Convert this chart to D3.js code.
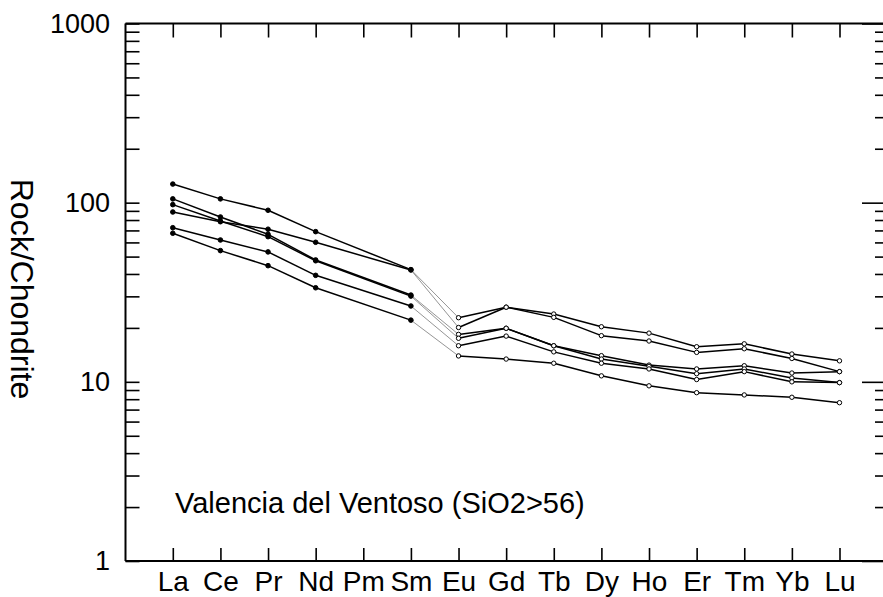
<!DOCTYPE html>
<html>
<head>
<meta charset="utf-8">
<script src="https://cdn.jsdelivr.net/npm/d3@7"></script>
<style>
  html, body { margin: 0; padding: 0; background: #fff; overflow: hidden; }
  svg { display: block; }
  text { font-family: "Liberation Sans", Arial, Helvetica, sans-serif; fill: #000; }
</style>
</head>
<body>
<svg id="chart" width="883" height="597"></svg>
<script>
// ---- data ----
const elements = ["La","Ce","Pr","Nd","Pm","Sm","Eu","Gd","Tb","Dy","Ho","Er","Tm","Yb","Lu"];
// null = no analysis (Pm)
const sample1 = [127, 105, 90.7, 68.9, null, 42.3, 22.8, 26.1, 23.9, 20.3, 18.7, 15.7, 16.3, 14.3, 13.1];
const sample2 = [88.7, 78.3, 71.1, 60.1, null, 42.1, 20.1, 26.1, 22.9, 18.1, 16.9, 14.6, 15.3, 13.5, 11.4];
const sample3 = [105, 83.2, 66.6, 47.9, null, 30.5, 18.4, 19.9, 15.9, 14.0, 12.4, 11.8, 12.3, 11.2, 11.4];
const sample4 = [97.5, 79, 64.6, 47.4, null, 30.1, 17.5, 19.9, 15.9, 13.4, 12.2, 11.1, 11.8, 10.5, 9.9];
const sample5 = [72.5, 61.9, 53.1, 39.3, null, 26.5, 15.9, 18.0, 14.7, 12.7, 11.8, 10.3, 11.4, 10.0, 9.9];
const sample6 = [67.5, 54, 44.5, 33.5, null, 22.1, 13.95, 13.4, 12.7, 10.8, 9.5, 8.7, 8.45, 8.2, 7.65];
const samples = [sample1, sample2, sample3, sample4, sample5, sample6];
const yTickLabels = ["1", "10", "100", "1000"];
const yAxisTitle = "Rock/Chondrite";
const annotation = "Valencia del Ventoso (SiO2>56)";

// ---- layout ----
const svg = d3.select("#chart");
const frame = { left: 125.5, right: 887, top: 23.5, bottom: 561 };

const x = d3.scalePoint().domain(elements).range([172.8, 839.5]);
const y = d3.scaleLog().domain([1, 1000]).range([frame.bottom, frame.top]);

const allTicks = [];
for (let d = 1; d < 1000; d *= 10) for (let k = 1; k < 10; k++) allTicks.push(d * k);
allTicks.push(1000);
const majorTicks = [1, 10, 100, 1000];
const minorTicks = allTicks.filter(v => !majorTicks.includes(v));

function styleAxis(g) {
  g.selectAll("path.domain").attr("stroke", "#000").attr("stroke-width", 2);
  g.selectAll(".tick line").attr("stroke", "#000").attr("stroke-width", 1.6);
}

// bottom axis
svg.append("g")
  .attr("transform", `translate(0,${frame.bottom})`)
  .call(d3.axisBottom(x).tickSize(-13).tickSizeOuter(0).tickPadding(10))
  .call(g => g.select("path.domain").attr("d", `M${frame.left},0H${frame.right}`))
  .call(styleAxis)
  .call(g => g.selectAll(".tick text").attr("font-size", 28).attr("fill", "#000"));

// top axis
svg.append("g")
  .attr("transform", `translate(0,${frame.top})`)
  .call(d3.axisTop(x).tickSize(-14).tickSizeOuter(0).tickFormat(""))
  .call(g => g.select("path.domain").attr("d", `M${frame.left},0H${frame.right}`))
  .call(styleAxis);

// left axis
svg.append("g")
  .attr("transform", `translate(${frame.left},0)`)
  .call(d3.axisLeft(y).tickValues(allTicks).tickSize(-14).tickSizeOuter(0).tickPadding(15.5)
    .tickFormat(v => { const i = majorTicks.indexOf(v); return i >= 0 ? yTickLabels[i] : ""; }))
  .call(g => g.select("path.domain").attr("d", `M0,${frame.top}V${frame.bottom}`))
  .call(styleAxis)
  .call(g => g.selectAll(".tick text").attr("font-size", 27).attr("fill", "#000"));

// right axis (minor + major ticks)
svg.append("g")
  .attr("transform", `translate(${frame.right},0)`)
  .call(d3.axisRight(y).tickValues(minorTicks).tickSize(-12).tickSizeOuter(0).tickFormat(""))
  .call(g => g.select("path.domain").attr("d", `M0,${frame.top}V${frame.bottom}`))
  .call(styleAxis);
svg.append("g")
  .attr("transform", `translate(${frame.right},0)`)
  .call(d3.axisRight(y).tickValues(majorTicks).tickSize(-25).tickSizeOuter(0).tickFormat(""))
  .call(g => g.select("path.domain").remove())
  .call(styleAxis);

// y axis title (rotated, reading downward)
svg.append("text")
  .attr("transform", `translate(11,289) rotate(90)`)
  .attr("text-anchor", "middle")
  .attr("font-size", 32)
  .text(yAxisTitle);

// annotation
svg.append("text")
  .attr("x", 175).attr("y", 513)
  .attr("font-size", 29)
  .text(annotation);

// ---- data lines ----
const lines = svg.append("g");
samples.forEach(s => {
  const pts = elements.map((e, i) => ({ e, i, v: s[i] })).filter(p => p.v != null);
  for (let k = 0; k < pts.length - 1; k++) {
    const a = pts[k], b = pts[k + 1];
    const thin = a.e === "Sm" && b.e === "Eu";
    lines.append("line")
      .attr("x1", x(a.e)).attr("y1", y(a.v))
      .attr("x2", x(b.e)).attr("y2", y(b.v))
      .attr("stroke", thin ? "#7a7a7a" : "#000")
      .attr("stroke-width", thin ? 0.8 : 1.5);
  }
  pts.forEach(p => {
    const open = p.i >= elements.indexOf("Eu");
    lines.append("circle")
      .attr("cx", x(p.e)).attr("cy", y(p.v))
      .attr("r", open ? 2.2 : 2.3)
      .attr("fill", open ? "#fff" : "#000")
      .attr("stroke", "#000")
      .attr("stroke-width", 1);
  });
});
</script>
</body>
</html>
